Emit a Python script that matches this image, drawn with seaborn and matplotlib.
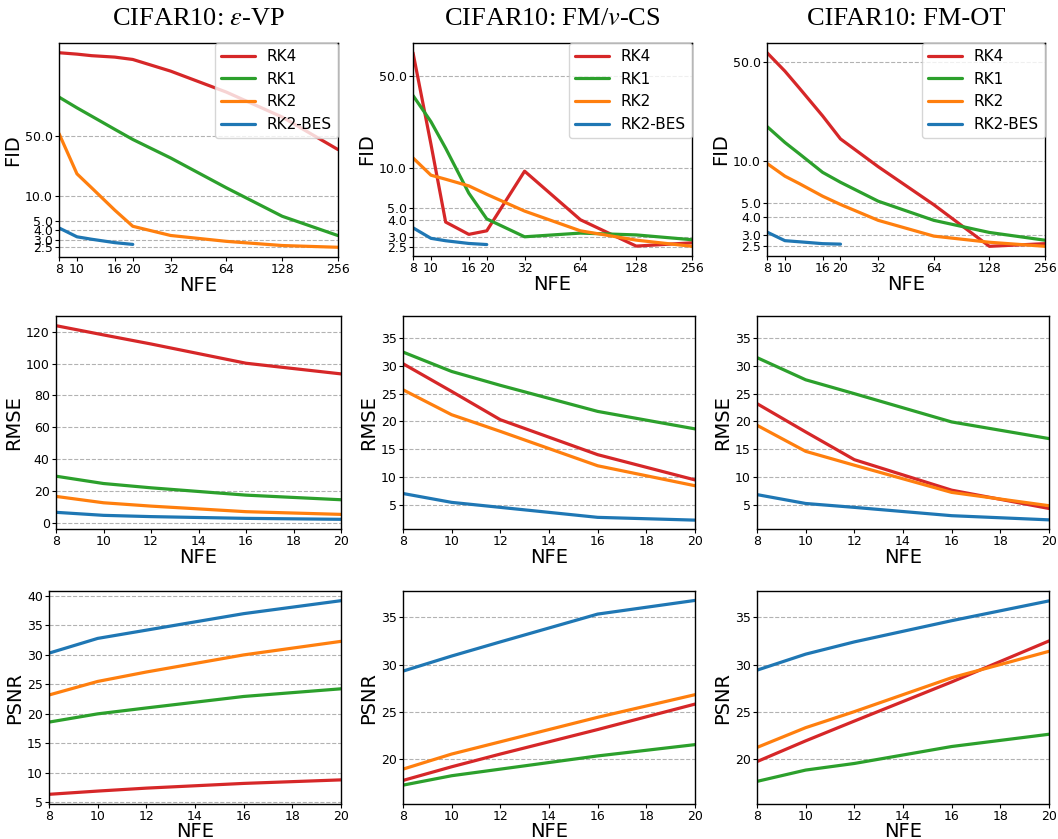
import numpy as np
import pandas as pd
import matplotlib
matplotlib.use("Agg")
import matplotlib.pyplot as plt
from matplotlib.ticker import MultipleLocator
import seaborn as sns

methods = ["RK4", "RK1", "RK2", "RK2-BES"]
palette = ["#d62728", "#2ca02c", "#ff7f0e", "#1f77b4"]

# NFE grids
nfe_long = [8, 10, 12, 16, 20, 32, 64, 128, 256]
nfe_short = [8, 10, 12, 16, 20]

# FID  (RK4, RK1, RK2 on nfe_long, RK2-BES on nfe_short)
fid_vp_rk4 = [460, 443, 425, 409, 384, 281, 160, 82, 34.3]
fid_vp_rk1 = [140, 105, 84, 59, 45, 27.4, 12.3, 5.74, 3.42]
fid_vp_rk2 = [52.7, 17.9, 12.3, 6.76, 4.39, 3.43, 2.93, 2.62, 2.5]
fid_vp_bes = [4.2, 3.31, 3.1, 2.83, 2.70]

fid_cs_rk4 = [74.8, 15.1, 3.88, 3.13, 3.33, 9.44, 4.04, 2.55, 2.70]
fid_cs_rk1 = [35.4, 22.4, 14.1, 6.43, 4.1, 3.0, 3.2, 3.1, 2.85]
fid_cs_rk2 = [11.9, 8.8, 8.2, 7.3, 6.3, 4.7, 3.33, 2.83, 2.54]
fid_cs_bes = [3.51, 2.92, 2.8, 2.67, 2.62]

fid_ot_rk4 = [58.2, 43.1, 32.6, 20.8, 14.3, 9.1, 4.9, 2.49, 2.6]
fid_ot_rk1 = [17.5, 13.5, 11.2, 8.3, 7.06, 5.19, 3.8, 3.12, 2.75]
fid_ot_rk2 = [9.6, 7.8, 6.9, 5.63, 4.92, 3.8, 2.94, 2.66, 2.49]
fid_ot_bes = [3.14, 2.73, 2.68, 2.6, 2.58]

# RMSE (nfe_short)
rmse_vp_rk4 = [123.8, 118, 112.3, 100.2, 93.5]
rmse_vp_rk1 = [29.2, 24.6, 21.9, 17.3, 14.4]
rmse_vp_rk2 = [16.5, 12.5, 10.4, 6.9, 5.2]
rmse_vp_bes = [6.5, 4.6, 3.8, 2.7, 2.1]

rmse_cs_rk4 = [30.4, 25.4, 20.3, 14.0, 9.45]
rmse_cs_rk1 = [32.5, 29.0, 26.5, 21.8, 18.65]
rmse_cs_rk2 = [25.7, 21.2, 18.2, 12.0, 8.4]
rmse_cs_bes = [7.0, 5.4, 4.5, 2.7, 2.2]

rmse_ot_rk4 = [23.2, 18.1, 13.1, 7.6, 4.3]
rmse_ot_rk1 = [31.5, 27.5, 25.0, 19.9, 16.9]
rmse_ot_rk2 = [19.3, 14.6, 12.1, 7.2, 4.8]
rmse_ot_bes = [6.8, 5.2, 4.5, 3.0, 2.25]

# PSNR (nfe_short)
psnr_vp_rk4 = [6.35, 6.9, 7.4, 8.2, 8.8]
psnr_vp_rk1 = [18.6, 20.0, 21.0, 22.95, 24.25]
psnr_vp_rk2 = [23.2, 25.5, 27.1, 30.0, 32.3]
psnr_vp_bes = [30.3, 32.8, 34.2, 37.0, 39.2]

psnr_cs_rk4 = [17.7, 19.15, 20.5, 23.1, 25.8]
psnr_cs_rk1 = [17.2, 18.2, 18.9, 20.3, 21.5]
psnr_cs_rk2 = [18.9, 20.5, 21.8, 24.4, 26.8]
psnr_cs_bes = [29.3, 30.9, 32.4, 35.35, 36.8]

psnr_ot_rk4 = [19.7, 21.9, 24.0, 28.15, 32.5]
psnr_ot_rk1 = [17.6, 18.8, 19.5, 21.3, 22.6]
psnr_ot_rk2 = [21.2, 23.3, 25.0, 28.6, 31.4]
psnr_ot_bes = [29.4, 31.1, 32.4, 34.65, 36.75]

titles = ["CIFAR10: $\\epsilon$-VP", "CIFAR10: FM/$v$-CS", "CIFAR10: FM-OT"]
fid_xticks = [8, 10, 16, 20, 32, 64, 128, 256]
fid_yticks = [2.5, 3.0, 4.0, 5.0, 10.0, 50.0]


def make_df(series, nfes):
    rows = []
    for m, vals, xs in zip(methods, series, nfes):
        for x, v in zip(xs, vals):
            rows.append({"NFE": x, "value": v, "method": m})
    return pd.DataFrame(rows)


sns.set_style("ticks")
plt.rcParams["font.family"] = ["DejaVu Sans"]
plt.rcParams["mathtext.fontset"] = "stix"
plt.rcParams["text.color"] = "black"
plt.rcParams["axes.labelcolor"] = "black"
plt.rcParams["xtick.color"] = "black"
plt.rcParams["ytick.color"] = "black"

fig = plt.figure(figsize=(10.58, 8.39), dpi=100)
W, H = 1058, 839

def add_ax(left, top, width, bottom):
    return fig.add_axes([left / W, (H - bottom) / H, width / W, (bottom - top) / H])

# pixel boxes (left, top, width, bottom)
boxes = [
    [(59, 43, 279, 257), (413, 43, 279, 256), (767, 43, 278, 256)],
    [(56, 316, 285, 529), (403, 316, 292, 529), (757, 316, 292, 529)],
    [(49, 591, 292, 804), (403, 591, 292, 804), (757, 591, 292, 804)],
]

fid_data = [
    [fid_vp_rk4, fid_vp_rk1, fid_vp_rk2, fid_vp_bes],
    [fid_cs_rk4, fid_cs_rk1, fid_cs_rk2, fid_cs_bes],
    [fid_ot_rk4, fid_ot_rk1, fid_ot_rk2, fid_ot_bes],
]
rmse_data = [
    [rmse_vp_rk4, rmse_vp_rk1, rmse_vp_rk2, rmse_vp_bes],
    [rmse_cs_rk4, rmse_cs_rk1, rmse_cs_rk2, rmse_cs_bes],
    [rmse_ot_rk4, rmse_ot_rk1, rmse_ot_rk2, rmse_ot_bes],
]
psnr_data = [
    [psnr_vp_rk4, psnr_vp_rk1, psnr_vp_rk2, psnr_vp_bes],
    [psnr_cs_rk4, psnr_cs_rk1, psnr_cs_rk2, psnr_cs_bes],
    [psnr_ot_rk4, psnr_ot_rk1, psnr_ot_rk2, psnr_ot_bes],
]
rmse_ylims = [None, (0.6, 39), (0.6, 39)]
rmse_steps = [20, 5, 5]
psnr_ylims = [None, (15.2, 37.8), (15.2, 37.8)]

lw = 2.3
label_fs = 14
for col in range(3):
    # FID row
    ax = add_ax(*boxes[0][col])
    df = make_df(fid_data[col], [nfe_long, nfe_long, nfe_long, nfe_short])
    sns.lineplot(data=df, x="NFE", y="value", hue="method", hue_order=methods,
                 palette=palette, linewidth=lw, ax=ax, legend=False)
    ax.set_xscale("log", base=2)
    ax.set_yscale("log")
    ax.set_xticks(fid_xticks, labels=[str(t) for t in fid_xticks])
    ax.set_yticks(fid_yticks, labels=[f"{t:.1f}" for t in fid_yticks])
    ax.minorticks_off()
    ax.set_xlim(8, 256)
    ax.set_title(titles[col], fontsize=19, family="Liberation Serif", pad=13)
    ax.set_ylabel("FID", fontsize=label_fs, labelpad=2)
    ax.set_xlabel("NFE", fontsize=label_fs, labelpad=0)
    ax.legend(ax.get_lines()[:4], methods, loc="upper right", fontsize=11,
              borderaxespad=0, handlelength=2.2)

    # RMSE row
    ax = add_ax(*boxes[1][col])
    df = make_df(rmse_data[col], [nfe_short] * 4)
    sns.lineplot(data=df, x="NFE", y="value", hue="method", hue_order=methods,
                 palette=palette, linewidth=lw, ax=ax, legend=False)
    ax.set_xlim(8, 20)
    if rmse_ylims[col]:
        ax.set_ylim(*rmse_ylims[col])
    ax.yaxis.set_major_locator(MultipleLocator(rmse_steps[col]))
    ax.set_ylabel("RMSE", fontsize=label_fs, labelpad=2)
    ax.set_xlabel("NFE", fontsize=label_fs, labelpad=0)

    # PSNR row
    ax = add_ax(*boxes[2][col])
    df = make_df(psnr_data[col], [nfe_short] * 4)
    sns.lineplot(data=df, x="NFE", y="value", hue="method", hue_order=methods,
                 palette=palette, linewidth=lw, ax=ax, legend=False)
    ax.set_xlim(8, 20)
    if psnr_ylims[col]:
        ax.set_ylim(*psnr_ylims[col])
    ax.yaxis.set_major_locator(MultipleLocator(5))
    ax.set_ylabel("PSNR", fontsize=label_fs, labelpad=2)
    ax.set_xlabel("NFE", fontsize=label_fs, labelpad=-1)

for ax in fig.axes:
    ax.yaxis.grid(True, linestyle="--", color="gray", alpha=0.6, linewidth=0.8)
    ax.xaxis.grid(False)
    ax.tick_params(labelsize=9, pad=1.5, length=3)
    for s in ax.spines.values():
        s.set_color("black")
        s.set_linewidth(1.0)

fig.savefig("out.png", dpi=100)
